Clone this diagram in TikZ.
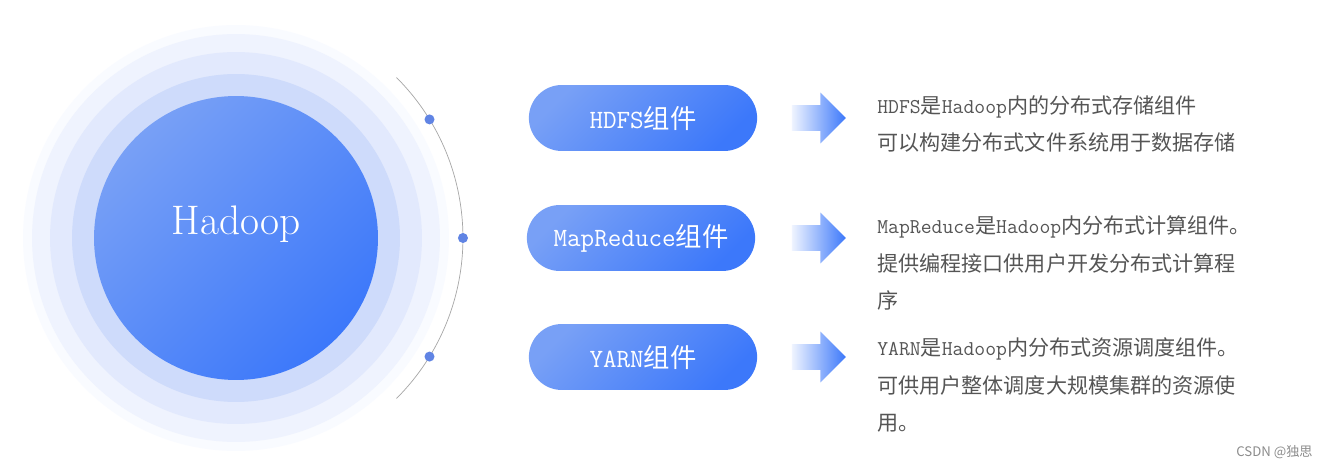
\documentclass[tikz,border=0pt]{standalone}
\usepackage{fontspec}
\newfontfamily\cjk{Noto Sans CJK SC}
\usetikzlibrary{shapes.misc,shapes.arrows,positioning}
\definecolor{hblueA}{RGB}{120,160,246}
\definecolor{hblueB}{RGB}{60,120,250}
\definecolor{haloA}{RGB}{206,219,251}
\definecolor{haloB}{RGB}{226,233,253}
\definecolor{haloC}{RGB}{239,243,254}
\definecolor{haloD}{RGB}{249,251,255}
\definecolor{desctext}{RGB}{85,85,85}
\definecolor{dotblue}{RGB}{96,132,228}

\begin{document}
\begin{tikzpicture}[x=0.02cm,y=-0.02cm,
  comp/.style={rounded rectangle, minimum width=4.8cm, minimum height=1.32cm,
    left color=hblueA, right color=hblueB, shading angle=45, text=white,
    font=\ttfamily\fontsize{15}{18}\selectfont},
  blockarrow/.style={single arrow, minimum height=1.08cm, minimum width=1cm,
    inner sep=0.25cm, single arrow head extend=0.25cm,
    left color=hblueB!8, right color=hblueB},
  desc/.style={anchor=west, align=left, inner sep=0, text=desctext,
    font=\cjk\fontsize{12}{21.6}\selectfont},
  dot/.style={circle, fill=dotblue, inner sep=0, minimum size=0.2cm}]
  \useasboundingbox (0,0) rectangle (1329,469);
  \fill[white] (0,0) rectangle (1329,469);
  % halo round the core
  \foreach \r/\c in {4.26cm/haloD,4.08cm/haloC,3.72cm/haloB,3.28cm/haloA}
    \fill[\c] (236,238) circle (\r);
  \node[circle, minimum size=5.68cm, inner sep=0, left color=hblueA,
    right color=hblueB, shading angle=45] (hadoop) at (236,238) {};
  \node[text=white, font=\fontsize{23.5}{28}\selectfont] (hadooplbl)
    at (236,224) {Hadoop};
  \draw[black!35] (hadoop.center) ++(-45:4.54cm)
    arc[start angle=-45, end angle=45, radius=4.54cm];
  \foreach \a/\n in {31.5/1,0/2,-31.5/3}
    \path (hadoop.center) ++(\a:4.54cm) node[dot] (dot\n) {};
  % components
  \node[comp] (hdfs) at (643,118) {HDFS{\cjk 组件}};
  \node[comp] (mr) at (641,238) {MapReduce{\cjk 组件}};
  \node[comp] (yarn) at (643,357) {YARN{\cjk 组件}};
  \node[blockarrow, right=0.68cm of hdfs] (arrhdfs) {};
  \node[blockarrow, right=0.72cm of mr] (arrmr) {};
  \node[blockarrow, right=0.68cm of yarn] (arryarn) {};
  \node[desc] (hdfsdesc) at (877,124)
    {{\ttfamily HDFS}是{\ttfamily Hadoop}内的分布式存储组件\\
     可以构建分布式文件系统用于数据存储};
  \node[desc] (mrdesc) at (877,263)
    {{\ttfamily MapReduce}是{\ttfamily Hadoop}内分布式计算组件。\\
     提供编程接口供用户开发分布式计算程\\序};
  \node[desc] (yarndesc) at (877,385)
    {{\ttfamily YARN}是{\ttfamily Hadoop}内分布式资源调度组件。\\
     可供用户整体调度大规模集群的资源使\\用。};
  \node[anchor=east, inner sep=0, text=black!45,
    font=\cjk\fontsize{7.5}{9}\selectfont] (mark) at (1313,452) {CSDN @独思};
\end{tikzpicture}
\end{document}
